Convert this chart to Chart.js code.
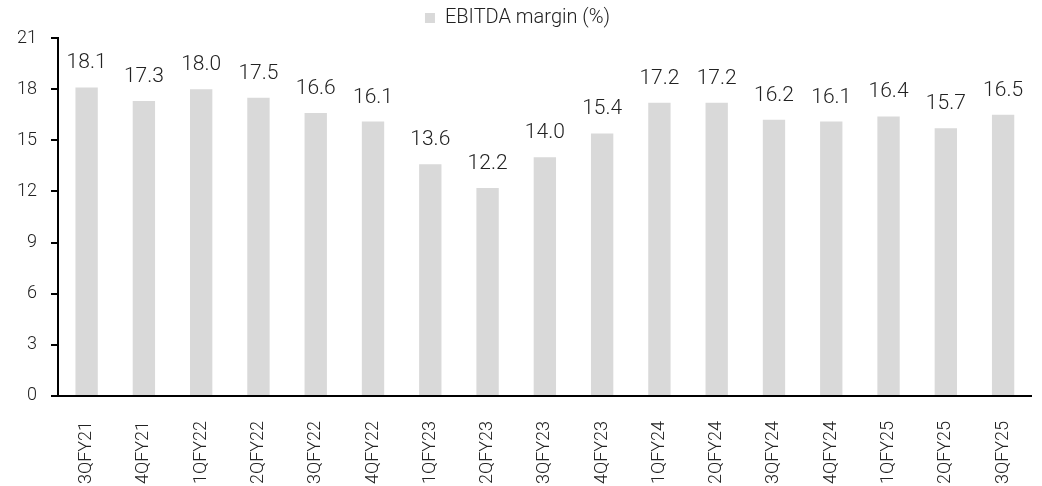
<!DOCTYPE html>
<html>
<head>
<meta charset="utf-8">
<script src="https://cdn.jsdelivr.net/npm/chart.js@4"></script>
<style>
  html, body { margin: 0; padding: 0; background: #fff; }
  #wrap { width: 1042px; height: 486px; }
</style>
</head>
<body>
<div id="wrap"><canvas id="myChart" width="1042" height="486"></canvas></div>
<script>
// Data
const quarters = ["3QFY21", "4QFY21", "1QFY22", "2QFY22", "3QFY22", "4QFY22", "1QFY23", "2QFY23", "3QFY23",
  "4QFY23", "1QFY24", "2QFY24", "3QFY24", "4QFY24", "1QFY25", "2QFY25", "3QFY25"];
const ebitdaMargin = [18.1, 17.3, 18.0, 17.5, 16.6, 16.1, 13.6, 12.2, 14.0, 15.4, 17.2, 17.2, 16.2, 16.1, 16.4, 15.7, 16.5];
const yTicks = [0, 3, 6, 9, 12, 15, 18, 21];

const barColor = '#d9d9d9';
const textColor = '#222';
const axisColor = '#000';
const tickFont = { family: 'Roboto', size: 18, weight: 300 };

// plugin to print values over bars
const barValues = {
  id: 'bar_values',
  afterDatasetsDraw: (chart) => {
    const ctx = chart.ctx;
    ctx.save();
    ctx.font = '300 21px Roboto';
    ctx.fillStyle = textColor;
    ctx.textAlign = 'center';
    ctx.textBaseline = 'alphabetic';
    chart.getDatasetMeta(0).data.forEach((bar, i) => {
      ctx.fillText(ebitdaMargin[i].toFixed(1), bar.x, bar.y - 19);
    });
    ctx.restore();
  }
};

var chart = new Chart(document.getElementById('myChart'), {
  type: 'bar',
  data: {
    labels: quarters,
    datasets: [{
      label: 'EBITDA margin (%)',
      backgroundColor: barColor,
      data: ebitdaMargin,
      barPercentage: 0.39,
      categoryPercentage: 1.0,
    }]
  },
  plugins: [barValues],
  options: {
    responsive: false,
    animation: false,
    layout: { padding: { left: 3, right: 10, top: 0, bottom: -15 } },
    plugins: {
      legend: {
        display: true,
        position: 'top',
        labels: {
          boxWidth: 10,
          boxHeight: 10,
          padding: 8,
          color: textColor,
          font: { family: 'Roboto', size: 20, weight: 300 }
        }
      },
      tooltip: { enabled: false }
    },
    scales: {
      x: {
        grid: { display: false },
        border: { display: true, color: axisColor, width: 2 },
        ticks: { maxRotation: 90, minRotation: 90, padding: 17, color: textColor, font: tickFont }
      },
      y: {
        min: 0,
        max: 21,
        afterBuildTicks: (axis) => { axis.ticks = yTicks.map(v => ({ value: v })); },
        grid: { display: true, drawOnChartArea: false, drawTicks: true, tickLength: 7, color: axisColor, lineWidth: 2 },
        border: { display: true, color: axisColor, width: 2 },
        ticks: { padding: 14, color: textColor, font: tickFont }
      }
    }
  }
});
</script>
</body>
</html>
